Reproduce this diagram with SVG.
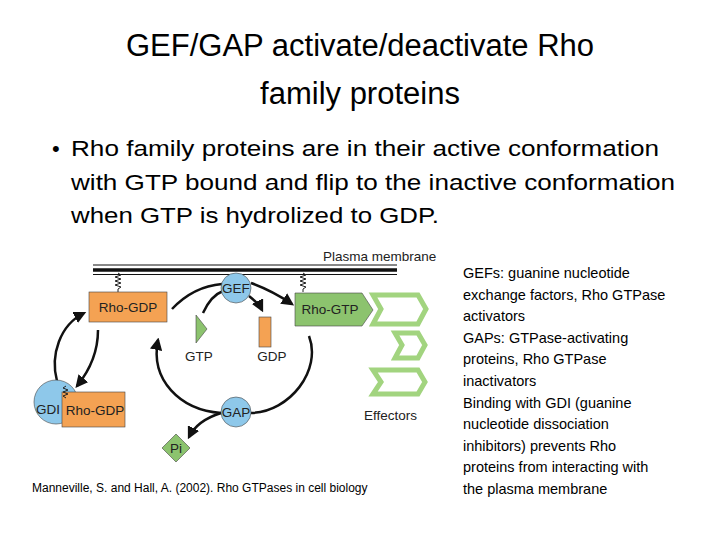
<svg xmlns="http://www.w3.org/2000/svg" width="720" height="540" viewBox="0 0 720 540">
<style>
.t{font-family:"Liberation Sans",Arial,sans-serif;fill:#000}
.f{font-family:"Liberation Sans",Arial,sans-serif;font-size:13.5px;fill:#222}
.c{fill:none;stroke:#111;stroke-width:2.5}
.org{fill:#f4a253;stroke:#444;stroke-width:0.6}
.blu{fill:#8ec8ea;stroke:#444;stroke-width:0.6}
.grn{fill:#8cc36e;stroke:#444;stroke-width:0.6}
.chev{fill:none;stroke:#a2d47f;stroke-width:5}
.sq{fill:none;stroke:#222;stroke-width:1}
</style>
<defs><marker id="a" viewBox="0 0 10 10" refX="8" refY="5" markerWidth="5" markerHeight="5" orient="auto"><path d="M0,0L10,5L0,10z" fill="#111"/></marker></defs>
<rect width="720" height="540" fill="#fff"/>
<text class="t" x="360" y="56" font-size="31" text-anchor="middle">GEF/GAP activate/deactivate Rho</text>
<text class="t" x="360" y="104" font-size="31" text-anchor="middle">family proteins</text>
<g class="t" font-size="22">
<text x="52" y="156">•</text>
<text x="71" y="156" textLength="588" lengthAdjust="spacingAndGlyphs">Rho family proteins are in their active conformation</text>
<text x="71" y="190" textLength="604" lengthAdjust="spacingAndGlyphs">with GTP bound and flip to the inactive conformation</text>
<text x="71" y="223" textLength="368" lengthAdjust="spacingAndGlyphs">when GTP is hydrolized to GDP.</text>
</g>
<g class="t" font-size="14.5">
<text x="463" y="278">GEFs: guanine nucleotide</text>
<text x="463" y="300">exchange factors, Rho GTPase</text>
<text x="463" y="321">activators</text>
<text x="463" y="343">GAPs: GTPase-activating</text>
<text x="463" y="364">proteins, Rho GTPase</text>
<text x="463" y="386">inactivators</text>
<text x="463" y="408">Binding with GDI (guanine</text>
<text x="463" y="429">nucleotide dissociation</text>
<text x="463" y="451">inhibitors) prevents Rho</text>
<text x="463" y="472">proteins from interacting with</text>
<text x="463" y="494">the plasma membrane</text>
</g>
<text class="t" x="32" y="492" font-size="12">Manneville, S. and Hall, A. (2002). Rho GTPases in cell biology</text>
<g id="membrane">
<line x1="93" y1="265" x2="397" y2="265" stroke="#111" stroke-width="1"/>
<line x1="93" y1="270" x2="397" y2="270" stroke="#111" stroke-width="3.5"/>
<line x1="93" y1="274.5" x2="397" y2="274.5" stroke="#111" stroke-width="1"/>
<text class="f" x="323" y="261" font-size="12.5">Plasma membrane</text>
<path class="sq" d="M118,273l3,2l-6,2l6,2l-6,2l6,2l-6,2l6,2l-3,2v3"/>
<path class="sq" d="M303,273l3,2l-6,2l6,2l-6,2l6,2l-6,2l6,2l-3,2v3"/>
</g>
<g id="connectors">
<path class="c" d="M172,309 C190,290 210,285 222,284"/>
<path class="c" d="M251,283 C265,288 280,296 292,304" marker-end="url(#a)"/>
<path class="c" d="M203,313 C208,302 215,294 223,291"/>
<path class="c" d="M249,296 C254,300 259,304 262,310" marker-end="url(#a)"/>
<path class="c" d="M309,336 C322,370 290,412 251,413"/>
<path class="c" d="M221,413 C180,410 150,380 158,340" marker-end="url(#a)"/>
<path class="c" d="M221,413 C205,418 195,425 189,437" marker-end="url(#a)"/>
<path class="c" d="M98,330 C98,350 90,370 77,386" marker-end="url(#a)"/>
<path class="c" d="M57,381 C50,355 60,325 84,313" marker-end="url(#a)"/>
</g>
<g id="rho-gdp"><rect class="org" x="89" y="292" width="78" height="30"/><text class="f" x="128" y="312" text-anchor="middle">Rho-GDP</text></g>
<g id="gef"><circle class="blu" cx="236" cy="288" r="15"/><text class="f" x="236" y="293" text-anchor="middle">GEF</text></g>
<g id="rho-gtp"><path class="grn" d="M295,293H362L373,310L362,326H295z"/><text class="f" x="330" y="314" text-anchor="middle">Rho-GTP</text></g>
<g id="gtp"><path class="grn" d="M196,315L207,329L196,343z"/><text class="f" x="199" y="361" text-anchor="middle">GTP</text></g>
<g id="gdp"><rect class="org" x="259" y="317" width="12" height="30"/><text class="f" x="272" y="361" text-anchor="middle">GDP</text></g>
<g id="gap"><circle class="blu" cx="236" cy="412" r="15"/><text class="f" x="236" y="417" text-anchor="middle">GAP</text></g>
<g id="pi"><path class="grn" d="M176,434L190,448L176,462L162,448z"/><text class="f" x="176" y="453" text-anchor="middle">Pi</text></g>
<g id="gdi-rho-gdp"><circle class="blu" cx="56" cy="402" r="22"/><rect class="org" x="62" y="392" width="63" height="35"/><path class="sq" d="M66,386l-3,2l5,2l-5,2l5,2l-5,2l3,2"/><text class="f" x="48" y="414" text-anchor="middle">GDI</text><text class="f" x="95" y="415" text-anchor="middle">Rho-GDP</text></g>
<g id="effectors">
<path class="chev" d="M373,295H418L426,309L418,324H373L381,309z"/>
<path class="chev" d="M395,333H418L425,345L418,358H395L402,345z"/>
<path class="chev" d="M373,370H418L425,382L418,394H373L381,382z"/>
<text class="f" x="364" y="420" font-size="13">Effectors</text>
</g>
</svg>
